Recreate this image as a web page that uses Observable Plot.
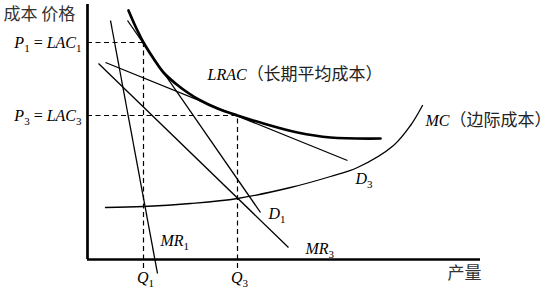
<!DOCTYPE html>
<html>
<head>
<meta charset="utf-8">
<script src="https://cdn.jsdelivr.net/npm/d3@7"></script>
<script src="https://cdn.jsdelivr.net/npm/@observablehq/plot@0.6"></script>
<style>
  html, body { margin: 0; padding: 0; background: #fff; }
  #chart svg { display: block; background: #fff; }
</style>
</head>
<body>
<div id="chart"></div>
<script>
// ---- data (quantity q, price p) ----
const qVals = [14, 37.5];                       // Q1, Q3
const qLabels = ["Q_{1}", "Q_{3}"];
const pVals = [86.8, 57.6];                     // P1 = LAC1, P3 = LAC3
const pLabels = ["P_{1} = LAC_{1}", "P_{3} = LAC_{3}"];

const lracQ = [10.25, 12, 14, 16.5, 19, 22, 25, 28.25, 32.5, 37.5, 44, 52.5, 60.75, 73.25];
const lracP = [99.6, 93.2, 86.8, 80.4, 74.8, 70.4, 66.8, 63.6, 60.4, 57.6, 54.4, 50.8, 48.8, 48.4];

const mcQ = [4.5, 14, 25.75, 37.5, 50.75, 60.75, 67.5, 76.5, 80.75, 83.75];
const mcP = [20.8, 21.2, 22.4, 24.4, 28.8, 33.2, 36.8, 45.6, 53.6, 61.6];

const lineNames = ["D1", "D3", "MR1", "MR3"];
const lineQ0 = [10, 4.5, 5.75, 2.75];
const lineP0 = [95.6, 78.8, 95.6, 78.4];
const lineQ1 = [43.25, 65, 17.5, 50.25];
const lineP1 = [18.8, 39.6, -5.6, 4.8];

const curveLabels = ["LRAC（长期平均成本）", "MC（边际成本）", "D_{3}", "D_{1}", "MR_{1}", "MR_{3}"];
const curveLabelQ = [30, 84.5, 67, 45.25, 18.25, 54.5];
const curveLabelP = [74, 55.6, 32.4, 18.4, 7.6, 4.4];

const axisTitles = ["成本 价格", "产量"];
const axisTitleQ = [-21, 90];
const axisTitleP = [98, -5.6];

const xAxisEnd = 98.25;
const yAxisEnd = 102;

// ---- build ----
const lrac = lracQ.map((q, i) => ({q, p: lracP[i]}));
const mc = mcQ.map((q, i) => ({q, p: mcP[i]}));
const segs = lineNames.map((n, i) => ({n, q0: lineQ0[i], p0: lineP0[i], q1: lineQ1[i], p1: lineP1[i]}));
const pts = qVals.map((q, i) => ({q, p: pVals[i], ql: qLabels[i], pl: pLabels[i]}));
const cl = curveLabels.map((t, i) => ({t, q: curveLabelQ[i], p: curveLabelP[i]}));
const at = axisTitles.map((t, i) => ({t, q: axisTitleQ[i], p: axisTitleP[i]}));

const serif = "'Liberation Serif', 'Times New Roman', serif";
const cjk = "'Noto Sans CJK SC', sans-serif";

const chart = Plot.plot({
  width: 553,
  height: 290,
  marginLeft: 87,
  marginRight: 0,
  marginTop: 0,
  marginBottom: 31,
  x: {domain: [0, 116.5], axis: null},
  y: {domain: [0, 103.6], axis: null},
  marks: [
    // dashed guides
    Plot.ruleY(pts, {y: "p", x1: 0, x2: "q", strokeDasharray: "5,3.5", strokeWidth: 1.2, stroke: "#000"}),
    Plot.ruleX(pts, {x: "q", y1: -3.6, y2: "p", strokeDasharray: "5,3.5", strokeWidth: 1.2, stroke: "#000"}),
    // straight demand / MR lines
    Plot.link(segs, {x1: "q0", y1: "p0", x2: "q1", y2: "p1", stroke: "#000", strokeWidth: 1.3}),
    // MC
    Plot.line(mc, {x: "q", y: "p", curve: "catmull-rom", stroke: "#000", strokeWidth: 1.3}),
    // LRAC
    Plot.line(lrac, {x: "q", y: "p", curve: "catmull-rom", stroke: "#000", strokeWidth: 2.7}),
    // axes
    Plot.ruleX([0], {y1: 0, y2: yAxisEnd, stroke: "#000", strokeWidth: 2.7}),
    Plot.ruleY([0], {x1: 0, x2: xAxisEnd, stroke: "#000", strokeWidth: 2.7}),
    // labels
    Plot.text(pts, {x: 0, y: "p", text: "pl", textAnchor: "end", dx: -6, fontSize: 16, fill: "#000"}),
    Plot.text(pts, {x: "q", y: 0, text: "ql", textAnchor: "middle", dx: 2, dy: 18, fontSize: 16, fill: "#000"}),
    Plot.text(cl, {x: "q", y: "p", text: "t", textAnchor: "start", fontSize: 16, fill: "#000"}),
    Plot.text(at, {x: "q", y: "p", text: "t", textAnchor: "start", fontSize: 17, fill: "#333", fontFamily: cjk})
  ]
});

// rich text: italic serif for Latin letters, subscripts for _{..}
function richify(el) {
  const s = el.textContent;
  if (!/[A-Za-z_]/.test(s)) return;
  el.textContent = "";
  const re = /_\{([^}]*)\}|([A-Za-z]+)|([^_A-Za-z]+)/g;
  let m;
  let pendingDy = 0;
  const ns = "http://www.w3.org/2000/svg";
  while ((m = re.exec(s)) !== null) {
    const t = document.createElementNS(ns, "tspan");
    let shift = pendingDy;
    pendingDy = 0;
    if (m[1] !== undefined) {
      t.textContent = m[1];
      t.setAttribute("font-family", serif);
      t.setAttribute("font-style", "normal");
      t.setAttribute("font-size", "11");
      shift += 4;
      pendingDy = -4;
    } else if (m[2] !== undefined) {
      t.textContent = m[2];
      t.setAttribute("font-family", serif);
      t.setAttribute("font-style", "italic");
    } else {
      t.textContent = m[3];
      t.setAttribute("font-family", serif + ", " + cjk);
      t.setAttribute("font-style", "normal");
      if (/[\u3000-\uffff]/.test(m[3])) {
        t.setAttribute("font-size", "17");
        t.setAttribute("fill", "#222");
      }
    }
    if (shift) t.setAttribute("dy", String(shift));
    el.appendChild(t);
  }
}
chart.querySelectorAll("text").forEach(richify);

document.getElementById("chart").appendChild(chart);
</script>
</body>
</html>
